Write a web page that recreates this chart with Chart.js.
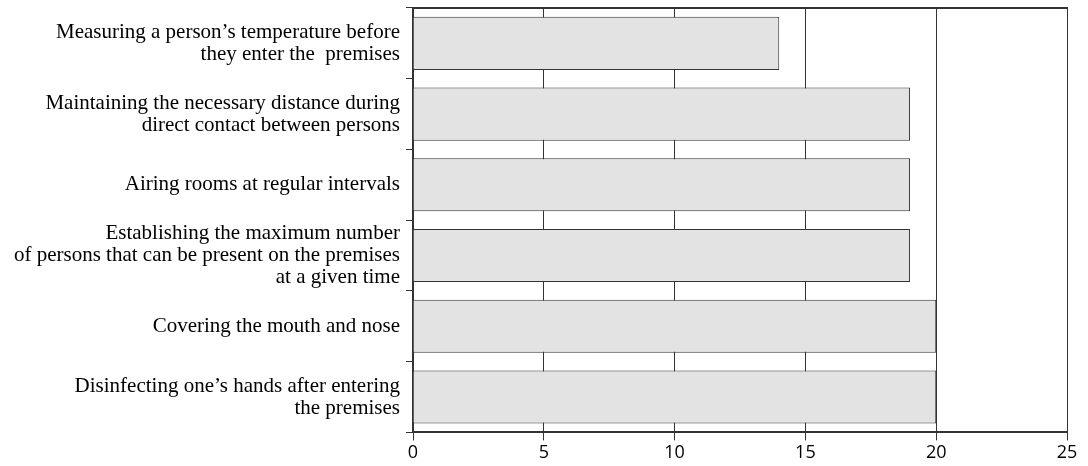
<!DOCTYPE html>
<html>
<head>
<meta charset="utf-8">
<script src="https://cdn.jsdelivr.net/npm/chart.js@4"></script>
<style>
  html, body { margin: 0; padding: 0; background: #fff; }
  #wrap { width: 1088px; height: 466px; }
</style>
</head>
<body>
<div id="wrap"><canvas id="chart"></canvas></div>
<script>
// measures (top to bottom)
const categories = [
    ['Measuring a person\u2019s temperature before', 'they enter the  premises'],
    ['Maintaining the necessary distance during', 'direct contact between persons'],
    'Airing rooms at regular intervals',
    ['Establishing the maximum number', 'of persons that can be present on the premises', 'at a given time'],
    'Covering the mouth and nose',
    ['Disinfecting one\u2019s hands after entering', 'the premises']
];
const counts = [14, 19, 19, 19, 20, 20];
const xTicks = [0, 5, 10, 15, 20, 25];

const ink = '#333333';

new Chart(document.getElementById('chart'), {
    type: 'bar',
    data: {
        labels: categories,
        datasets: [{
            data: counts,
            backgroundColor: '#e3e3e3',
            borderColor: ink,
            borderWidth: 1,
            barPercentage: 0.75,
            categoryPercentage: 1
        }]
    },
    options: {
        indexAxis: 'y',
        responsive: true,
        maintainAspectRatio: false,
        animation: false,
        layout: { padding: { top: 8, right: 21, bottom: 0, left: 0 } },
        plugins: {
            legend: { display: false },
            tooltip: { enabled: false }
        },
        scales: {
            x: {
                min: 0,
                max: 25,
                afterBuildTicks: s => { s.ticks = xTicks.map(v => ({ value: v })); },
                afterFit: s => { s.paddingLeft = 0; s.paddingRight = 0; },
                grid: { color: ink, lineWidth: 1, tickLength: 8 },
                border: { color: ink, width: 2 },
                ticks: {
                    color: '#000',
                    padding: 2,
                    font: { family: 'Open Sans', size: 18 }
                }
            },
            xTop: {
                type: 'linear',
                position: 'top',
                min: 0,
                max: 25,
                afterFit: s => { s.height = 0; s.paddingLeft = 0; s.paddingRight = 0; },
                grid: { display: false },
                ticks: { display: false },
                border: { color: ink, width: 2 }
            },
            y: {
                afterFit: s => { s.width = 413; s.paddingTop = 0; s.paddingBottom = 0; },
                grid: { drawOnChartArea: false, offset: true, color: ink, tickLength: 7 },
                border: { color: ink, width: 2 },
                ticks: {
                    autoSkip: false,
                    color: '#000',
                    padding: 6,
                    font: { family: 'Liberation Serif', size: 21, lineHeight: 1.05 }
                }
            }
        }
    }
});
</script>
</body>
</html>
